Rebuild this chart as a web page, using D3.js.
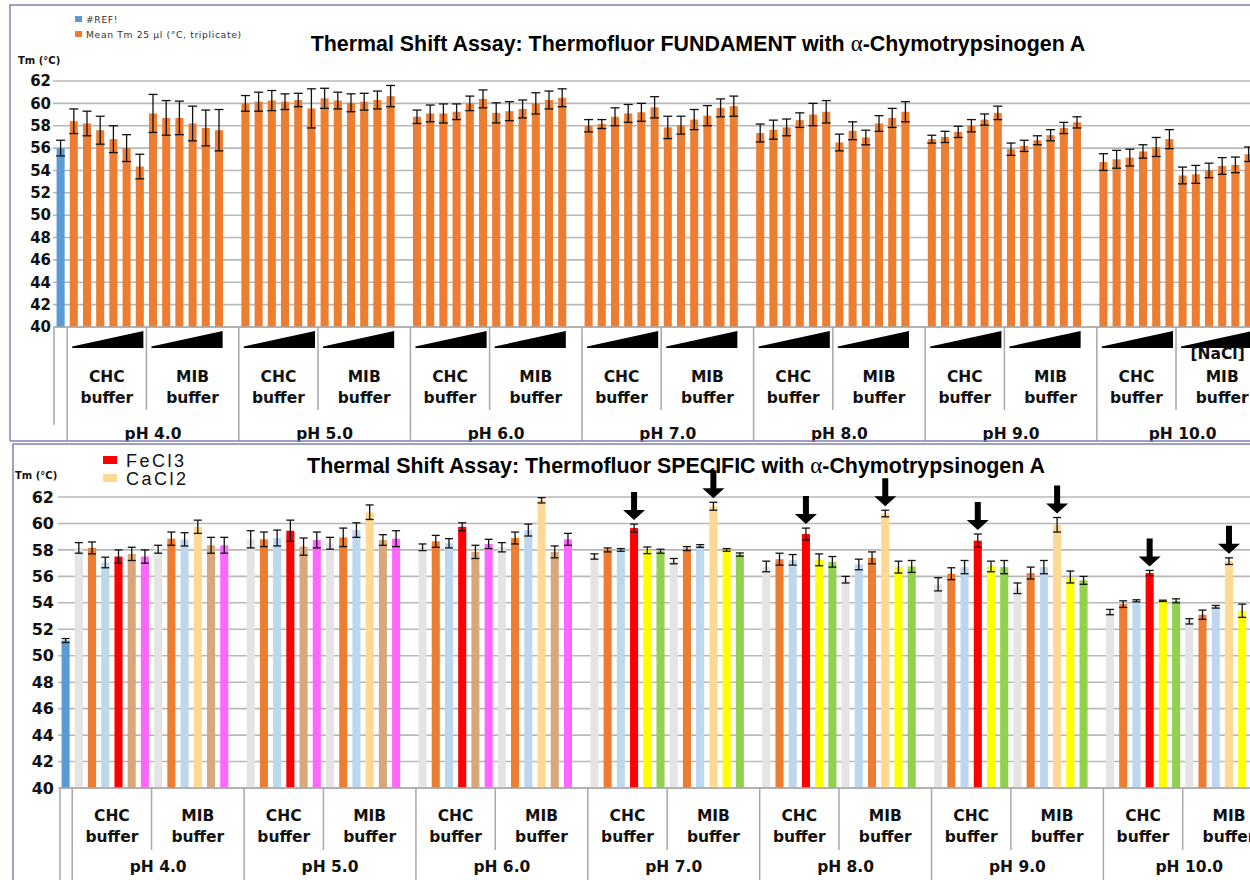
<!DOCTYPE html>
<html><head><meta charset="utf-8">
<script src="https://cdn.jsdelivr.net/npm/d3@7"></script>
<style>body{margin:0;background:#fff;} svg{display:block;}</style>
</head><body>
<svg id="chart" width="1250" height="880"></svg>
<script>
// ---------------- DATA ----------------
const pHLabels = ["pH 4.0", "pH 5.0", "pH 6.0", "pH 7.0", "pH 8.0", "pH 9.0", "pH 10.0"];
const bufferLabels = ["CHC", "MIB"];
const yTickValues = [40, 42, 44, 46, 48, 50, 52, 54, 56, 58, 60, 62];

const fundTitle = ["Thermal Shift Assay: Thermofluor FUNDAMENT with ", "\u03b1", "-Chymotrypsinogen A"];
const fundLegend = ["#REF!", "Mean Tm 25 \u00b5l (\u00b0C, triplicate)"];
const fundRefMean = 56.0;
const fundRefErr = 0.7;
const fundMeans = [
  [58.4, 58.2, 57.6, 56.8, 56.0, 54.35, 59.1, 58.7, 58.7, 58.2, 57.8, 57.6],
  [60.0, 60.15, 60.25, 60.15, 60.3, 59.55, 60.45, 60.25, 60.05, 60.15, 60.3, 60.65],
  [58.8, 59.1, 59.1, 59.25, 60.0, 60.4, 59.15, 59.3, 59.5, 60.0, 60.3, 60.5],
  [58.0, 58.15, 58.8, 59.1, 59.2, 59.65, 57.85, 58.05, 58.55, 58.9, 59.6, 59.75],
  [57.35, 57.65, 57.85, 58.5, 59.0, 59.25, 56.5, 57.55, 56.95, 58.2, 58.7, 59.25],
  [56.8, 57.0, 57.45, 58.0, 58.55, 59.15, 55.9, 56.2, 56.7, 57.15, 57.8, 58.3],
  [54.75, 55.0, 55.15, 55.7, 56.1, 56.8, 53.55, 53.65, 54.0, 54.4, 54.5, 55.45]
];
const fundErrs = [
  [1.1, 1.1, 1.25, 1.2, 1.2, 1.1, 1.7, 1.55, 1.5, 1.55, 1.6, 1.85],
  [0.7, 0.85, 0.9, 0.7, 0.6, 1.75, 0.9, 0.75, 0.8, 0.75, 0.8, 0.95],
  [0.6, 0.75, 0.85, 0.7, 0.65, 0.8, 0.9, 0.85, 0.8, 0.95, 0.8, 0.8],
  [0.55, 0.4, 0.8, 0.8, 0.8, 0.95, 1.0, 0.8, 0.9, 0.9, 0.8, 0.9],
  [0.8, 0.85, 0.75, 0.65, 1.0, 1.0, 0.75, 0.8, 0.65, 0.7, 0.85, 0.9],
  [0.35, 0.5, 0.5, 0.55, 0.5, 0.6, 0.55, 0.5, 0.4, 0.5, 0.5, 0.5],
  [0.75, 0.8, 0.75, 0.6, 0.85, 0.85, 0.75, 0.8, 0.65, 0.75, 0.7, 0.65]
];
const naclLabel = "[NaCl]";

const specTitle = ["Thermal Shift Assay: Thermofluor SPECIFIC with ", "\u03b1", "-Chymotrypsinogen A"];
const specLegend = ["FeCl3", "CaCl2"];
const specRefMean = 51.15;
const specRefErr = 0.15;
const specMeans = [
  [58.15, 58.15, 57.05, 57.5, 57.7, 57.5, 58.05, 58.85, 58.8, 59.75, 58.35, 58.35],
  [58.8, 58.8, 58.9, 59.45, 58.25, 58.75, 58.5, 58.95, 59.5, 60.85, 58.75, 58.85],
  [58.2, 58.65, 58.5, 59.75, 57.85, 58.45, 58.2, 58.9, 59.5, 61.75, 57.85, 58.8],
  [57.5, 58.0, 58.0, 59.65, 57.97, 57.9, 57.15, 58.1, 58.3, 61.3, 58.0, 57.65],
  [56.75, 57.3, 57.25, 59.2, 57.25, 57.1, 55.75, 56.9, 57.4, 60.75, 56.7, 56.75],
  [55.4, 56.2, 56.7, 58.7, 56.75, 56.7, 55.1, 56.25, 56.7, 59.9, 55.95, 55.7],
  [53.3, 53.9, 54.15, 56.25, 54.15, 54.15, 52.6, 53.1, 53.7, 57.15, 53.4, null]
];
const specErrs = [
  [0.4, 0.45, 0.4, 0.5, 0.5, 0.5, 0.3, 0.5, 0.5, 0.5, 0.6, 0.6],
  [0.65, 0.55, 0.6, 0.8, 0.65, 0.6, 0.45, 0.7, 0.55, 0.55, 0.4, 0.6],
  [0.25, 0.45, 0.35, 0.3, 0.5, 0.35, 0.35, 0.45, 0.45, 0.2, 0.45, 0.45],
  [0.2, 0.15, 0.1, 0.3, 0.25, 0.15, 0.2, 0.15, 0.1, 0.3, 0.1, 0.12],
  [0.4, 0.45, 0.4, 0.45, 0.45, 0.4, 0.25, 0.4, 0.45, 0.25, 0.45, 0.45],
  [0.5, 0.45, 0.5, 0.5, 0.4, 0.5, 0.4, 0.45, 0.5, 0.55, 0.45, 0.3],
  [0.2, 0.25, 0.08, 0.2, 0.05, 0.15, 0.2, 0.35, 0.1, 0.25, 0.5, null]
];
const specColorKeys = [
  ["blank","orange","ltblue","FeCl3","tan","magenta","blank","orange","ltblue","CaCl2","tan","magenta"],
  ["blank","orange","ltblue","FeCl3","tan","magenta","blank","orange","ltblue","CaCl2","tan","magenta"],
  ["blank","orange","ltblue","FeCl3","tan","magenta","blank","orange","ltblue","CaCl2","tan","magenta"],
  ["blank","orange","ltblue","FeCl3","yellow","green","blank","orange","ltblue","CaCl2","yellow","green"],
  ["blank","orange","ltblue","FeCl3","yellow","green","blank","ltblue","orange","CaCl2","yellow","green"],
  ["blank","orange","ltblue","FeCl3","yellow","green","blank","orange","ltblue","CaCl2","yellow","green"],
  ["blank","orange","ltblue","FeCl3","yellow","green","blank","orange","ltblue","CaCl2","yellow","green"]
];
// arrows: [pH index, bar index]
const specArrows = [[3,3],[3,9],[4,3],[4,9],[5,3],[5,9],[6,3],[6,9]];

const palette = {
  ref: "#5b9bd5", mean: "#ed7d31",
  blank: "#e4e4e4", orange: "#ed7d31", ltblue: "#bdd7ee", FeCl3: "#ff0000",
  tan: "#d8a87c", magenta: "#ff66ff", CaCl2: "#ffd993", yellow: "#ffff00", green: "#92d050"
};

// ---------------- DRAW ----------------
const svg = d3.select("#chart");
const SLOTS = 13;

function slotKeys() {
  const keys = ["REF"];
  pHLabels.forEach((p, i) => { for (let j = 0; j < SLOTS; j++) keys.push(i + "-" + j); });
  return keys;
}

function drawPanel(cfg) {
  const g = svg.append("g");
  const x = d3.scaleBand().domain(slotKeys()).range([cfg.x0, cfg.x1]).paddingInner(0.39).paddingOuter(0.195);
  const y = d3.scaleLinear().domain([40, 62]).range([cfg.yBottom, cfg.yTop]);
  const step = x.step();
  const slotStart = k => x(k) - step * x.paddingInner() / 2;

  g.append("path").attr("d", `M${cfg.frameX},${cfg.frameBottom} V${cfg.frameY} H1260`)
    .attr("fill", "none").attr("stroke", "#8080b0").attr("stroke-width", 1.5);

  g.append("g").selectAll("line").data(yTickValues).join("line")
    .attr("x1", cfg.gridX0).attr("x2", 1260)
    .attr("y1", d => y(d)).attr("y2", d => y(d))
    .attr("stroke", "#b8b8b8").attr("stroke-width", 1.6);

  const yAxis = d3.axisLeft(y).tickValues(yTickValues).tickSize(0).tickPadding(0);
  const ya = g.append("g").attr("transform", `translate(${cfg.tickRight},0)`).call(yAxis);
  ya.select(".domain").remove();
  ya.selectAll("text").attr("font-family", "DejaVu Sans").attr("font-weight", "bold")
    .attr("font-size", cfg.tickSize).attr("fill", "#111");

  g.append("text").attr("x", cfg.unitX).attr("y", cfg.unitY).text("Tm (\u00b0C)")
    .attr("font-family", "DejaVu Sans").attr("font-weight", "bold").attr("font-size", 10).attr("fill", "#111");

  const bars = [{ key: "REF", v: cfg.refMean, e: cfg.refErr, c: palette.ref }];
  cfg.means.forEach((arr, i) => arr.forEach((v, j) => {
    if (v === null) return;
    bars.push({ key: i + "-" + j, v, e: cfg.errs[i][j], c: cfg.color(i, j) });
  }));

  g.append("g").selectAll("rect").data(bars).join("rect")
    .attr("x", d => x(d.key)).attr("width", x.bandwidth())
    .attr("y", d => y(d.v)).attr("height", d => y(40) - y(d.v))
    .attr("fill", d => d.c);

  const eb = g.append("g").attr("stroke", "#111").attr("stroke-width", 1.3);
  const cap = cfg.cap;
  bars.forEach(d => {
    const cx = x(d.key) + x.bandwidth() / 2;
    eb.append("line").attr("x1", cx).attr("x2", cx).attr("y1", y(d.v + d.e)).attr("y2", y(d.v - d.e));
    eb.append("line").attr("x1", cx - cap).attr("x2", cx + cap).attr("y1", y(d.v + d.e)).attr("y2", y(d.v + d.e));
    eb.append("line").attr("x1", cx - cap).attr("x2", cx + cap).attr("y1", y(d.v - d.e)).attr("y2", y(d.v - d.e));
  });

  const ax = g.append("g").attr("stroke", "#a8a8a8").attr("stroke-width", 1.5);
  const yb = y(40);
  ax.append("line").attr("x1", cfg.axisLeft).attr("x2", 1260).attr("y1", yb).attr("y2", yb);
  ax.append("line").attr("x1", cfg.axisLeft).attr("x2", cfg.axisLeft).attr("y1", yb).attr("y2", cfg.leftLineEnd);
  const lab = g.append("g").attr("font-family", "DejaVu Sans").attr("font-weight", "bold")
    .attr("font-size", 15.5).attr("fill", "#111").attr("text-anchor", "middle");
  pHLabels.forEach((p, i) => {
    const s0 = slotStart(i + "-0");
    const sMid = slotStart(i + "-6");
    const sEnd = s0 + SLOTS * step;
    ax.append("line").attr("x1", s0).attr("x2", s0).attr("y1", yb).attr("y2", cfg.bottom);
    ax.append("line").attr("x1", sMid).attr("x2", sMid).attr("y1", yb).attr("y2", cfg.midLineEnd);
    lab.append("text").attr("x", (s0 + sMid) / 2).attr("y", cfg.bufY1).text(bufferLabels[0]);
    lab.append("text").attr("x", (s0 + sMid) / 2).attr("y", cfg.bufY2).text("buffer");
    lab.append("text").attr("x", (sMid + sEnd) / 2).attr("y", cfg.bufY1).text(bufferLabels[1]);
    lab.append("text").attr("x", (sMid + sEnd) / 2).attr("y", cfg.bufY2).text("buffer");
    lab.append("text").attr("x", (s0 + sEnd) / 2).attr("y", cfg.phY).text(p);
    if (cfg.triangles) {
      [[0, 5], [6, 11]].forEach(([a, b]) => {
        const xa = slotStart(i + "-" + a) + 5;
        const xb = slotStart(i + "-" + b) + step - 3;
        g.append("path").attr("d", `M${xa},${yb + 21} L${xa},${yb + 19.5} L${xb},${yb + 4} L${xb},${yb + 21} Z`).attr("fill", "#000");
      });
    }
  });
  return { g, x, y };
}

function drawTitle(parts, cx, cy) {
  const t = svg.append("text").attr("x", cx).attr("y", cy)
    .attr("font-family", "Liberation Sans").attr("font-weight", "bold").attr("font-size", 21.4)
    .attr("text-anchor", "middle").attr("fill", "#000");
  t.append("tspan").text(parts[0]);
  t.append("tspan").attr("font-family", "Liberation Serif").attr("font-weight", "normal").attr("font-size", 23).text(parts[1]);
  t.append("tspan").text(parts[2]);
}

// ---- top panel ----
const topPanel = drawPanel({
  x0: 54, x1: 54 + 92 * 13.2, yTop: 81, yBottom: 327,
  frameX: 10, frameY: 5, frameBottom: 441, gridX0: 53, tickRight: 51, tickSize: 15,
  unitX: 18, unitY: 64, refMean: fundRefMean, refErr: fundRefErr,
  means: fundMeans, errs: fundErrs, color: () => palette.mean, cap: 4.5,
  axisLeft: 54, leftLineEnd: 425, bottom: 441, midLineEnd: 410,
  bufY1: 382, bufY2: 403, phY: 439, triangles: true
});
svg.append("line").attr("x1", 10).attr("x2", 1260).attr("y1", 441).attr("y2", 441)
  .attr("stroke", "#8080b0").attr("stroke-width", 1.5);
{
  const i = 6;
  const xa = topPanel.x(i + "-6"), xb = topPanel.x(i + "-11") + topPanel.x.bandwidth();
  svg.append("text").attr("x", (xa + xb) / 2 + 2).attr("y", 359).text(naclLabel)
    .attr("font-family", "DejaVu Sans").attr("font-weight", "bold").attr("font-size", 15.5)
    .attr("text-anchor", "middle").attr("fill", "#111");
}
drawTitle(fundTitle, 698, 51);
const tl = svg.append("g").attr("font-family", "DejaVu Sans").attr("font-size", 9.2).attr("fill", "#333");
[[palette.ref, fundLegend[0], 16], [palette.mean, fundLegend[1], 31]].forEach(([c, t, yy]) => {
  tl.append("rect").attr("x", 75).attr("y", yy).attr("width", 7).attr("height", 6).attr("fill", c);
  tl.append("text").attr("x", 86).attr("y", yy + 6.5).text(t).attr("letter-spacing", 0.65);
});

// ---- bottom panel ----
const botPanel = drawPanel({
  x0: 59, x1: 59 + 92 * 13.22, yTop: 497, yBottom: 788,
  frameX: 13, frameY: 444, frameBottom: 900, gridX0: 58, tickRight: 54, tickSize: 16,
  unitX: 15, unitY: 479, refMean: specRefMean, refErr: specRefErr,
  means: specMeans, errs: specErrs, color: (i, j) => palette[specColorKeys[i][j]], cap: 4,
  axisLeft: 60, leftLineEnd: 900, bottom: 900, midLineEnd: 850,
  bufY1: 821, bufY2: 842, phY: 872, triangles: false
});
drawTitle(specTitle, 676, 473);
const bl = svg.append("g").attr("font-family", "Liberation Sans").attr("font-size", 18).attr("fill", "#111");
[[palette.FeCl3, specLegend[0], 456], [palette.CaCl2, specLegend[1], 474]].forEach(([c, t, yy]) => {
  bl.append("rect").attr("x", 103).attr("y", yy).attr("width", 14).attr("height", 8).attr("fill", c);
  bl.append("text").attr("x", 126).attr("y", yy + 10.5).attr("letter-spacing", 2.5).text(t);
});
const ar = svg.append("g").attr("fill", "#000");
specArrows.forEach(([i, j]) => {
  const v = specMeans[i][j], e = specErrs[i][j];
  const cx = botPanel.x(i + "-" + j) + botPanel.x.bandwidth() / 2;
  const tip = botPanel.y(v + e) - 4;
  ar.append("path").attr("d",
    `M${cx - 3},${tip - 28} H${cx + 3} V${tip - 10} H${cx + 11} L${cx},${tip} L${cx - 11},${tip - 10} H${cx - 3} Z`);
});
</script>
</body></html>
